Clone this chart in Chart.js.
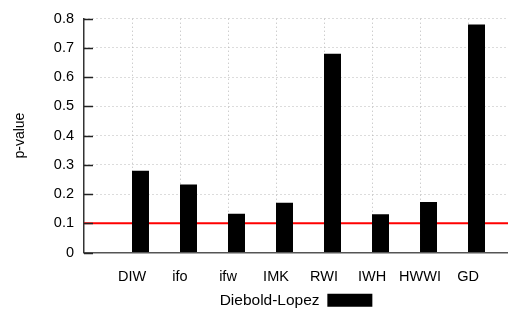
<!DOCTYPE html>
<html>
<head>
<meta charset="utf-8">
<script src="https://cdn.jsdelivr.net/npm/chart.js@4"></script>
<style>
    html, body { margin: 0; padding: 0; background: #fff; }
    #wrap { width: 508px; height: 313px; }
</style>
</head>
<body>
<div id="wrap"><canvas id="chart"></canvas></div>
<script>
// Data
const institutes = ['DIW', 'ifo', 'ifw', 'IMK', 'RWI', 'IWH', 'HWWI', 'GD'];
const pValues = [0.28, 0.233, 0.133, 0.17, 0.68, 0.131, 0.173, 0.78];
const seriesLabel = 'Diebold-Lopez';
const yTicks = [0, 0.1, 0.2, 0.3, 0.4, 0.5, 0.6, 0.7, 0.8];
const threshold = 0.1;

const font = { family: '"Liberation Sans", Arial, sans-serif', size: 14.5 };

// red significance line, drawn behind the bars
const thresholdLine = {
    id: 'thresholdLine',
    beforeDatasetsDraw(chart) {
        const { ctx, chartArea, scales } = chart;
        const y = scales.y.getPixelForValue(threshold);
        ctx.save();
        ctx.strokeStyle = '#ff0000';
        ctx.lineWidth = 2;
        ctx.beginPath();
        ctx.moveTo(chartArea.left, y);
        ctx.lineTo(chartArea.right, y);
        ctx.stroke();
        ctx.restore();
    }
};

// gnuplot style tick marks pointing into the plot
const innerTicks = {
    id: 'innerTicks',
    afterDraw(chart) {
        const { ctx, chartArea, scales } = chart;
        ctx.save();
        ctx.strokeStyle = '#222';
        ctx.lineWidth = 1.5;
        scales.y.ticks.forEach((t, i) => {
            const y = Math.round(scales.y.getPixelForTick(i)) + 0.5;
            ctx.beginPath();
            ctx.moveTo(chartArea.left, y);
            ctx.lineTo(chartArea.left + 9, y);
            ctx.stroke();
        });
        ctx.restore();
    }
};

const ctx = document.getElementById('chart').getContext('2d');
new Chart(ctx, {
    type: 'bar',
    data: {
        datasets: [
            {
                // empty slot so the real bar sits right of the tick, like gnuplot
                label: '',
                data: institutes.map((c, i) => ({ x: i, y: null })),
                backgroundColor: '#000'
            },
            {
                label: seriesLabel,
                data: institutes.map((c, i) => ({ x: i, y: pValues[i] })),
                backgroundColor: '#000',
                borderWidth: 0
            }
        ]
    },
    options: {
        responsive: true,
        maintainAspectRatio: false,
        animation: false,
        categoryPercentage: 0.708,
        barPercentage: 1,
        layout: { padding: { top: 16, left: 0, right: 0, bottom: -5 } },
        scales: {
            x: {
                type: 'linear',
                offset: false,
                min: -1,
                max: 7.833,
                afterBuildTicks: (scale) => {
                    scale.ticks = institutes.map((c, i) => ({ value: i }));
                },
                afterFit: (scale) => { scale.height = 30; },
                ticks: {
                    autoSkip: false,
                    maxRotation: 0,
                    padding: 16,
                    color: '#000',
                    font: font,
                    callback: (v) => institutes[v] || ''
                },
                grid: {
                    offset: false,
                    color: '#b8b8b8',
                    lineWidth: 1,
                    drawTicks: false
                },
                border: { display: true, color: '#555', width: 1.5, dash: [1, 3] }
            },
            y: {
                min: 0,
                max: 0.8,
                afterBuildTicks: (scale) => {
                    scale.ticks = yTicks.map(v => ({ value: v }));
                },
                afterFit: (scale) => { scale.width = 84; },
                ticks: {
                    padding: 10,
                    color: '#000',
                    font: font,
                    callback: (v) => String(Math.round(v * 10) / 10)
                },
                grid: {
                    color: '#b8b8b8',
                    lineWidth: 1,
                    drawTicks: false
                },
                border: { display: true, color: '#333', width: 1.5, dash: [1, 3] },
                title: {
                    display: true,
                    text: 'p-value',
                    color: '#000',
                    font: { family: font.family, size: 14 },
                    padding: { top: 12, bottom: 0 }
                }
            }
        },
        plugins: {
            legend: {
                position: 'bottom',
                fullSize: false,
                rtl: true,
                textDirection: 'ltr',
                labels: {
                    color: '#000',
                    font: { family: font.family, size: 15.5 },
                    boxWidth: 45,
                    boxHeight: 13,
                    padding: 10,
                    filter: (item) => item.text !== ''
                }
            },
            tooltip: { enabled: false }
        }
    },
    plugins: [thresholdLine, innerTicks]
});
</script>
</body>
</html>
